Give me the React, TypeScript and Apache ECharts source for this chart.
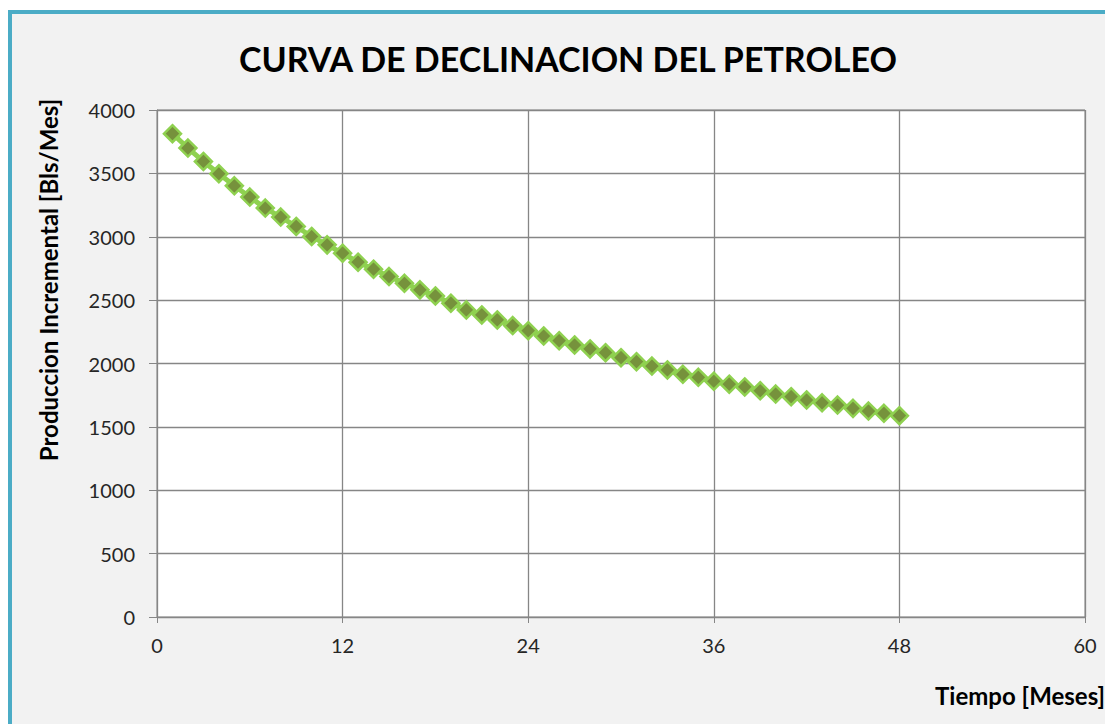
import React, { useEffect, useRef } from "react";
import * as echarts from "echarts";

const months: number[] = [
  1, 2, 3, 4, 5, 6, 7, 8, 9, 10, 11, 12, 13, 14, 15, 16, 17, 18, 19, 20, 21, 22, 23, 24,
  25, 26, 27, 28, 29, 30, 31, 32, 33, 34, 35, 36, 37, 38, 39, 40, 41, 42, 43, 44, 45, 46, 47, 48,
];
const production: number[] = [
  3813, 3700, 3594, 3497, 3402, 3313, 3226, 3155, 3081, 3002, 2936, 2870,
  2799, 2744, 2686, 2633, 2581, 2533, 2476, 2423, 2383, 2344, 2299, 2259,
  2217, 2180, 2146, 2115, 2085, 2046, 2014, 1980, 1949, 1915, 1891, 1860,
  1837, 1815, 1785, 1759, 1738, 1712, 1690, 1672, 1646, 1625, 1607, 1588,
];
const titleText = "CURVA DE DECLINACION DEL PETROLEO";
const yAxisTitle = "Produccion Incremental [Bls/Mes]";
const xAxisTitle = "Tiempo [Meses]";

export default function App() {
  const ref = useRef<HTMLDivElement>(null);
  useEffect(() => {
    if (!ref.current) return;
    const chart = echarts.init(ref.current, undefined, { renderer: "svg" });
    const font = "Lato, 'Open Sans', sans-serif";
    const grid = "#868686";
    chart.setOption({
      animation: false,
      backgroundColor: "#f2f2f2",
      grid: {
        left: 145,
        top: 96,
        right: 28,
        bottom: 109,
        show: true,
        backgroundColor: "#ffffff",
        borderColor: grid,
        borderWidth: 1,
      },
      xAxis: {
        type: "value",
        min: 0,
        max: 60,
        interval: 12,
        axisLine: { show: true, lineStyle: { color: grid, width: 1 } },
        axisTick: { show: true, length: 6, lineStyle: { color: grid } },
        splitLine: { show: true, lineStyle: { color: grid, width: 1.3 } },
        axisLabel: {
          color: "#262626",
          fontSize: 20,
          fontFamily: font,
          margin: 18,
          formatter: (v: number) => String(v),
        },
      },
      yAxis: {
        type: "value",
        min: 0,
        max: 4000,
        interval: 500,
        axisLine: { show: true, lineStyle: { color: grid, width: 1 } },
        axisTick: { show: true, length: 8, lineStyle: { color: grid } },
        splitLine: { show: true, lineStyle: { color: grid, width: 1.3 } },
        axisLabel: {
          color: "#262626",
          fontSize: 20,
          fontFamily: font,
          margin: 22,
          formatter: (v: number) => String(v),
        },
      },
      series: [
        {
          type: "line",
          data: months.map((m, i) => [m, production[i]]),
          symbol: "diamond",
          symbolSize: 17,
          lineStyle: { color: "#8fd150", width: 5 },
          itemStyle: { color: "#76923c", borderColor: "#8fd150", borderWidth: 2.5 },
        },
      ],
      graphic: [
        {
          type: "text",
          x: 556,
          y: 44,
          style: {
            text: titleText,
            fontSize: 34,
            fontWeight: "bold",
            fontFamily: font,
            fill: "#000",
            textAlign: "center",
            textVerticalAlign: "middle",
          },
        },
        {
          type: "text",
          x: 36,
          y: 266,
          rotation: Math.PI / 2,
          style: {
            text: yAxisTitle,
            fontSize: 24,
            fontWeight: "bold",
            fontFamily: font,
            fill: "#000",
            textAlign: "center",
            textVerticalAlign: "middle",
          },
        },
        {
          type: "text",
          x: 1093,
          y: 681,
          style: {
            text: xAxisTitle,
            fontSize: 24,
            fontWeight: "bold",
            fontFamily: font,
            fill: "#000",
            textAlign: "right",
            textVerticalAlign: "middle",
          },
        },
      ],
    });
    return () => chart.dispose();
  }, []);
  return (
    <div
      style={{
        position: "relative",
        top: 2,
        borderTop: "4px solid #4bacc6",
        borderLeft: "4px solid #4bacc6",
        background: "#f2f2f2",
        width: 1101,
        height: 712,
      }}
    >
      <div ref={ref} style={{ width: 1101, height: 712 }} />
    </div>
  );
}
